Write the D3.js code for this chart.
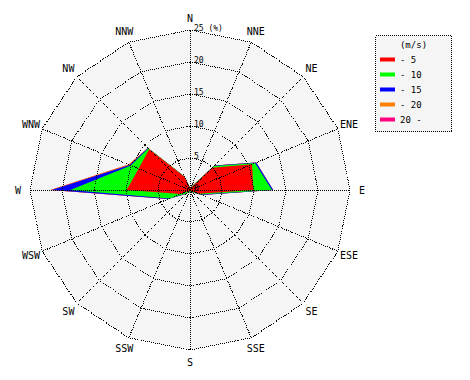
<!DOCTYPE html>
<html>
<head>
<meta charset="utf-8">
<script src="https://cdn.jsdelivr.net/npm/d3@7"></script>
<style>
  html, body { margin: 0; padding: 0; background: #ffffff; }
  svg { display: block; }
  text { font-family: "DejaVu Sans Mono", "Liberation Mono", monospace; fill: #000; }
</style>
</head>
<body>
<svg id="chart" width="470" height="380"></svg>
<script>
// ---- data ----
const directions = ["N","NNE","NE","ENE","E","ESE","SE","SSE","S","SSW","SW","WSW","W","WNW","NW","NNW"];
const speedLabels = ["- 5","- 10","- 15","- 20","20 -"];
const speedColors = ["#ff0000","#00ff00","#0000ff","#ff8000","#ff0080"];
// frequency (%) per direction for each speed class
const speed0to5   = [0.3,0.4,4.9,10.5,9.9,1.5,0.3,0.2,0.2,0.2,0.3,1.6,9.9,8.7,9.0,2.2];
const speed5to10  = [0.1,0.1,0.4,0.5,2.9,0.3,0.2,0.2,0.2,0.2,0.5,1.9,8.8,1.3,0.2,0.1];
const speed10to15 = [0,0,0.1,0.2,0.2,0.2,0,0,0,0,0.1,0.2,2.9,0.2,0.1,0];
const speed15to20 = [0,0,0,0,0,0,0,0,0,0,0,0,0.2,0.2,0,0];
const speedOver20 = [0,0,0,0,0,0,0,0,0,0,0,0,0,0,0,0];
const ringTicks = [0,5,10,15,20,25];
const ringUnit = "(%)";
const legendTitle = "(m/s)";

// ---- layout ----
const svg = d3.select("#chart");
const cx = 190, cy = 190, R = 160;
const r = d3.scaleLinear().domain([0, 25]).range([0, R]);
const angle = d3.scaleBand().domain(directions).range([0, 2 * Math.PI]).align(0).paddingInner(0).paddingOuter(0);
const ang = d => angle(d);

const g = svg.append("g").attr("transform", `translate(${cx},${cy})`);

// background 16-gon
const radial = d3.lineRadial().curve(d3.curveLinearClosed);
g.append("path")
  .attr("d", radial(directions.map(d => [ang(d), r(25)])))
  .attr("fill", "#f5f5f5");

// cumulative series
const classes = [speed0to5, speed5to10, speed10to15, speed15to20, speedOver20];
const cumulative = [];
classes.forEach((arr, i) => {
  cumulative.push(arr.map((v, j) => v + (i > 0 ? cumulative[i - 1][j] : 0)));
});

// draw outermost first
for (let i = cumulative.length - 1; i >= 0; i--) {
  g.append("path")
    .attr("d", radial(directions.map((d, j) => [ang(d), r(cumulative[i][j])])))
    .attr("fill", speedColors[i])
    .attr("stroke", "none");
}

// grid rings
ringTicks.filter(t => t > 0).forEach(t => {
  g.append("path")
    .attr("d", radial(directions.map(d => [ang(d), r(t)])))
    .attr("fill", "none")
    .attr("stroke", "#000")
    .attr("stroke-width", 1)
    .attr("stroke-dasharray", "1,1")
    .attr("shape-rendering", "crispEdges");
});

// spokes
directions.forEach(d => {
  const a = ang(d);
  g.append("line")
    .attr("x1", 0).attr("y1", 0)
    .attr("x2", r(25) * Math.sin(a)).attr("y2", -r(25) * Math.cos(a))
    .attr("stroke", "#000")
    .attr("stroke-width", 1)
    .attr("stroke-dasharray", "1,1")
    .attr("shape-rendering", "crispEdges");
});

// ring labels
ringTicks.forEach(t => {
  g.append("text")
    .attr("x", 4)
    .attr("y", -r(t) + 0.5)
    .attr("font-size", 8)
    .text(t === 25 ? `${t} ${ringUnit}` : `${t}`);
});

// direction labels
directions.forEach(d => {
  const a = ang(d);
  const lr = 172;
  g.append("text")
    .attr("x", lr * Math.sin(a))
    .attr("y", -lr * Math.cos(a))
    .attr("text-anchor", "middle")
    .attr("dominant-baseline", "central")
    .attr("font-size", 10)
    .text(d);
});

// legend
const lg = svg.append("g").attr("transform", "translate(375.5,35.5)");
lg.append("rect")
  .attr("width", 76).attr("height", 96)
  .attr("fill", "#f5f5f5")
  .attr("stroke", "#000")
  .attr("stroke-dasharray", "1,1")
  .attr("shape-rendering", "crispEdges");
lg.append("text")
  .attr("x", 38).attr("y", 12)
  .attr("text-anchor", "middle")
  .attr("font-size", 9)
  .text(legendTitle);
speedLabels.forEach((lab, i) => {
  const y = 24 + i * 15;
  lg.append("rect")
    .attr("x", 4.5).attr("y", y - 2)
    .attr("width", 15).attr("height", 4)
    .attr("fill", speedColors[i]);
  lg.append("text")
    .attr("x", 24.5).attr("y", y + 3.5)
    .attr("font-size", 9)
    .text(lab);
});
</script>
</body>
</html>
